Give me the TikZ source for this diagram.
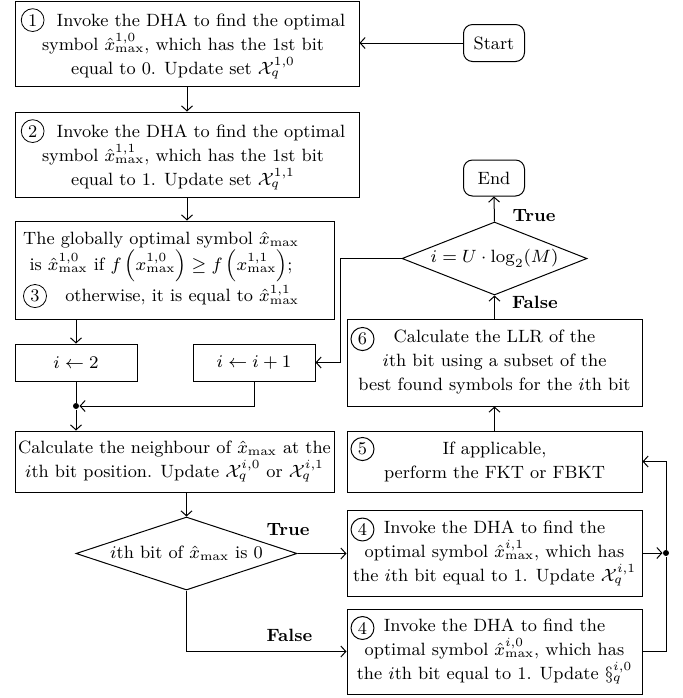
\RequirePackage{fix-cm}
\documentclass[tikz,border=0pt]{standalone}
\usepackage{amsmath,amssymb}
\usetikzlibrary{shapes.geometric,arrows.meta}

% circled step number, set inline with the text
\newcommand{\stepno}[1]{\tikz[baseline=(sn.base)]\node[draw,circle,inner sep=1.4pt,minimum size=0pt](sn){#1};}

\begin{document}
\begin{tikzpicture}[x=0.5pt,y=-0.5pt,
  font=\fontsize{8.9}{12}\selectfont,
  line width=0.5pt,
  box/.style={draw, inner sep=0pt, align=center},
  txt/.style={inner sep=0pt, align=center},
  term/.style={draw, rounded corners=4.5pt, inner sep=0pt},
  cond/.style={draw, diamond, aspect=3, inner sep=0pt},
  num/.style={draw, circle, inner sep=1.4pt},
  lbl/.style={inner sep=0pt, font=\fontsize{8.9}{12}\selectfont\bfseries},
  jdot/.style={circle, fill, inner sep=0pt, minimum size=3pt},
  flow/.style={-{Straight Barb[length=2.5pt,width=5.5pt]}}
]
\useasboundingbox (0,0) rectangle (682,698);

% ---- left column ----
\node[box, minimum width=172pt, minimum height=42.5pt] (b1) at (187,43.5) {};
\node[txt] (t1) at (183,43.5) {\stepno{1}\ \ Invoke the DHA to find the optimal\\
  symbol $\hat{x}^{1,0}_{\max}$, which has the 1st bit\\
  equal to 0. Update set $\mathcal{X}_q^{1,0}$};

\node[box, minimum width=172pt, minimum height=42.5pt] (b2) at (187,154.5) {};
\node[txt] (t2) at (183,154.5) {\stepno{2}\ \ Invoke the DHA to find the optimal\\
  symbol $\hat{x}^{1,1}_{\max}$, which has the 1st bit\\
  equal to 1. Update set $\mathcal{X}_q^{1,1}$};

\node[box, minimum width=159.5pt, minimum height=49pt] (b3) at (174.5,270) {};
\node[txt] (t3) at (161,270) {The globally optimal symbol $\hat{x}_{\max}$\\
  is $\hat{x}^{1,0}_{\max}$ if $f\left(x^{1,0}_{\max}\right)\geq f\left(x^{1,1}_{\max}\right)$;\\
  \stepno{3}\ \ \ otherwise, it is equal to $\hat{x}^{1,1}_{\max}$};

\node[box, minimum width=61pt, minimum height=18.5pt] (bi2) at (76,362.5) {$i\leftarrow 2$};
\node[box, minimum width=61pt, minimum height=18.5pt] (bi1) at (254,362.5) {$i\leftarrow i+1$};

\node[jdot] (j1) at (76,406) {};
\coordinate (k) at (340,258.5);

\node[box, minimum width=159.5pt, minimum height=30.5pt] (b7) at (174.5,461.5)
  {Calculate the neighbour of $\hat{x}_{\max}$ at the\\
   $i$th bit position. Update $\mathcal{X}_q^{i,0}$ or $\mathcal{X}_q^{i,1}$};

\node[cond, minimum width=110.5pt, minimum height=36.5pt] (d1) at (186.5,553.5)
  {$i$th bit of $\hat{x}_{\max}$ is 0};

% ---- right column ----
\node[term, minimum width=30.5pt, minimum height=18.5pt] (start) at (494,43) {Start};
\node[term, minimum width=30.5pt, minimum height=18pt] (end) at (494,178) {End};

\node[cond, minimum width=92.5pt, minimum height=36.5pt] (d2) at (494.5,258.5)
  {$i = U\cdot\log_2(M)$};

\node[box, minimum width=147.5pt, minimum height=43.5pt] (b6) at (494.5,362.5)
  {Calculate the LLR of the\\
   $i$th bit using a subset of the\\
   best found symbols for the $i$th bit};
\node[num] (n6) at (362.5,339) {6};

\node[box, minimum width=147.5pt, minimum height=30.5pt] (b5) at (494.5,461.5)
  {If applicable,\\ perform the FKT or FBKT};
\node[num] (n5) at (362.5,449) {5};

\node[box, minimum width=147.5pt, minimum height=43pt] (b4a) at (494.5,553)
  {Invoke the DHA to find the\\
   optimal symbol $\hat{x}^{i,1}_{\max}$, which has\\
   the $i$th bit equal to 1. Update $\mathcal{X}_q^{i,1}$};
\node[num] (n4a) at (362.5,529.5) {4};

\node[box, minimum width=147.5pt, minimum height=42.5pt] (b4b) at (494.5,651.5)
  {Invoke the DHA to find the\\
   optimal symbol $\hat{x}^{i,0}_{\max}$, which has\\
   the $i$th bit equal to 1. Update $\S_q^{i,0}$};
\node[num] (n4b) at (362.5,628) {4};

\node[jdot] (j2) at (666,553) {};

% ---- branch labels ----
\node[lbl] (l1) at (288,530) {True};
\node[lbl] (l2) at (289.5,635) {False};
\node[lbl] (l3) at (534,216) {True};
\node[lbl] (l4) at (535,302.5) {False};

% ---- connectors ----
\draw[flow] (start.west) -- (start.west -| b1.east);
\draw[flow] (b1.south) -- (b2.north);
\draw[flow] (b2.south) -- (b2.south |- b3.north);
\draw[flow] (bi2.north |- b3.south) -- (bi2.north);
\draw (bi2.south) -- (j1);
\draw[flow] (bi1.south) |- (j1);
\draw[flow] (j1) -- (j1 |- b7.north);
\draw[flow] (d1.north |- b7.south) -- (d1.north);
\draw[flow] (d1.east) -- (d1.east -| b4a.west);
\draw[flow] (d1.south) |- (b4b.west);
\draw[flow] (b4a.east) -- (j2);
\draw (b4b.east) -| (j2);
\draw[flow] (j2) |- (b5.east);
\draw[flow] (b5.north) -- (b6.south);
\draw[flow] (b6.north) -- (d2.south);
\draw[flow] (d2.north) -- (end.south);
\draw[flow] (d2.west) -- (k) |- (bi1.east);
\end{tikzpicture}
\end{document}
